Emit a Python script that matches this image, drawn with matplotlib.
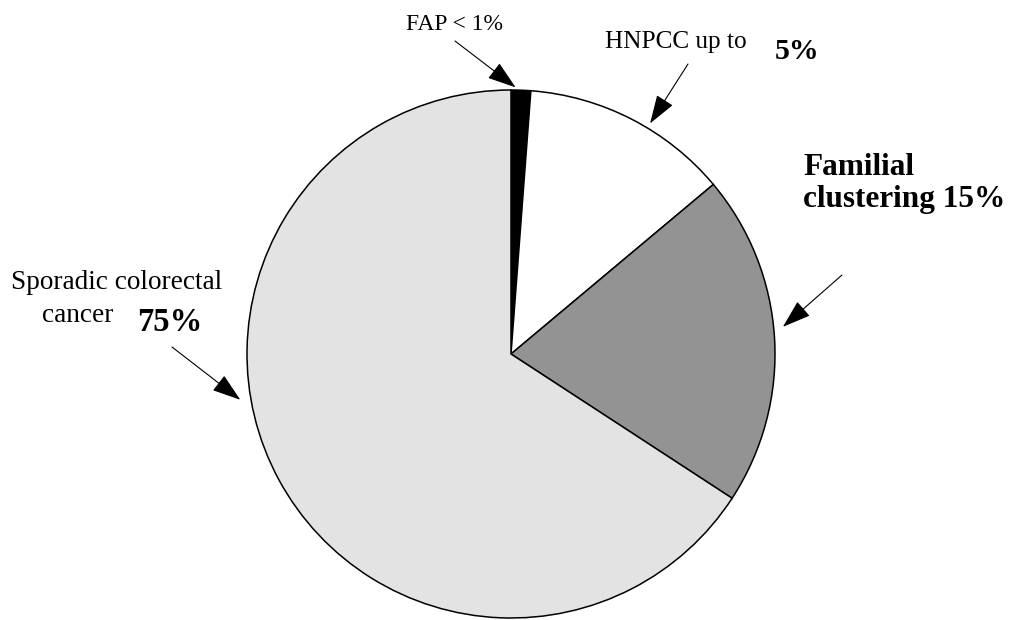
import numpy as np
import matplotlib
matplotlib.use('Agg')
import matplotlib.pyplot as plt

# slices, clockwise from 12 o'clock
slice_names = ['FAP', 'HNPCC', 'Familial clustering', 'Sporadic colorectal cancer']
slice_shares = [1.2, 12.7, 20.3, 65.8]
slice_colors = ['#000000', '#ffffff', '#939393', '#e3e3e3']

W, H = 1011, 620
plt.rcParams['font.family'] = ['Liberation Serif', 'DejaVu Serif']


def px(x, y):
    # pixel position (from top-left) -> figure fraction
    return (x / W, 1 - y / H)


fig = plt.figure(figsize=(W / 100, H / 100), dpi=100)
ax = fig.add_axes([247 / W, 2 / H, 528 / W, 528 / H])

wedges, _ = ax.pie(slice_shares, colors=slice_colors, startangle=90,
                   counterclock=False, radius=1,
                   wedgeprops=dict(edgecolor='black', linewidth=1.1))
ax.set_xlim(-1, 1)
ax.set_ylim(-1, 1)
ax.set_aspect('equal')
ax.axis('off')

# regular + bold labels
fig.text(*px(503, 30), 'FAP < 1%', fontsize=17, ha='right', va='baseline')
fig.text(*px(605, 48), 'HNPCC up to', fontsize=18.2, ha='left', va='baseline')
fig.text(*px(775, 59), '5%', fontsize=21.5, fontweight='bold', ha='left', va='baseline')
fig.text(*px(803, 175), 'Familial', fontsize=22.5, fontweight='bold', ha='left', va='baseline')
fig.text(*px(803, 207), 'clustering 15%', fontsize=22.5, fontweight='bold', ha='left', va='baseline')
fig.text(*px(11, 289), 'Sporadic colorectal', fontsize=19.6, ha='left', va='baseline')
fig.text(*px(42, 322), 'cancer', fontsize=19.6, ha='left', va='baseline')
fig.text(*px(137, 331), '75%', fontsize=23.5, fontweight='bold', ha='left', va='baseline')

# arrows: tip on the pie edge (angle in degrees, radius), tail in pixels
arrows = [(89.0, 1.01, (455, 41)),
          (58.9, 1.02, (688, 64)),
          (5.7, 1.035, (842, 275)),
          (189.6, 1.04, (172, 347))]
for ang, r, tail in arrows:
    t = np.deg2rad(ang)
    ax.annotate('', xy=(r * np.cos(t), r * np.sin(t)), xycoords='data',
                xytext=px(*tail), textcoords='figure fraction',
                annotation_clip=False,
                arrowprops=dict(arrowstyle='-|>,head_length=0.9,head_width=0.3',
                                color='black', lw=0.8, mutation_scale=20,
                                shrinkA=0, shrinkB=0))

fig.savefig('out.png', dpi=100)
